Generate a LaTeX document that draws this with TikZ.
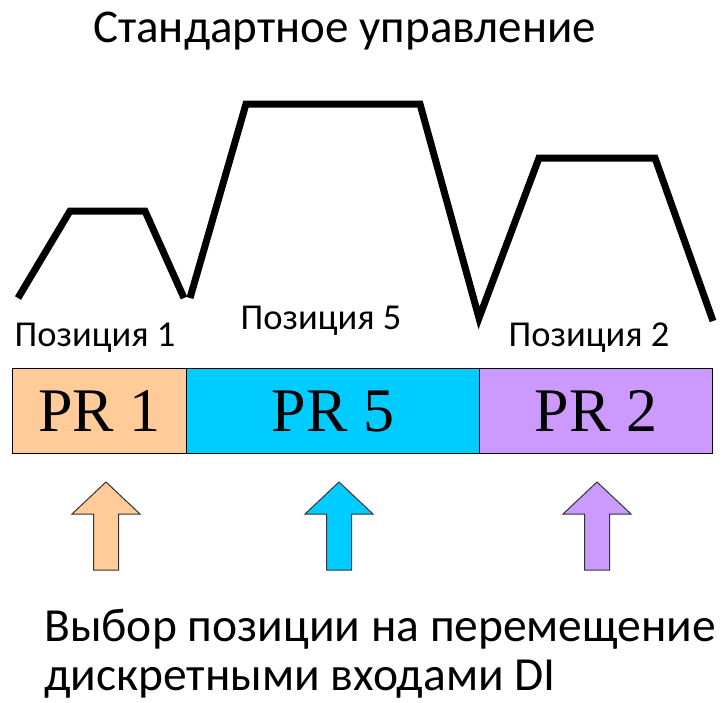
\documentclass[tikz,border=0pt]{standalone}
\usepackage{fontspec}
\setmainfont{Carlito}
\newfontfamily\prfont{Liberation Serif}
\tikzset{
  wave/.style={line width=7pt, line join=miter, line cap=butt},
  seg/.style={draw=black, line width=1.2pt, minimum height=85pt, inner sep=0pt, anchor=north west},
  prlabel/.style={font=\prfont\fontsize{62}{62}\selectfont},
  poslabel/.style={font=\fontsize{36.5}{38}\selectfont, inner sep=0pt, anchor=base},
  bigtext/.style={font=\fontsize{47.5}{50}\selectfont, inner sep=0pt, anchor=base west},
  uparrow/.style={draw=black!80, line width=1pt, line join=miter},
}
\definecolor{pr1}{HTML}{FFCC99}
\definecolor{pr5}{HTML}{00CCFF}
\definecolor{pr2}{HTML}{CC99FF}
\begin{document}
\begin{tikzpicture}[x=1pt,y=-1pt]
\useasboundingbox (0,0) rectangle (725,702);
% title
\node[font=\fontsize{47}{50}\selectfont, inner sep=0pt, anchor=base] (title) at (344.5,42) {Стандартное управление};
% wave
\draw[wave] (18,298) -- (70,211) -- (145,211) -- (184,298);
\draw[wave] (190,298) -- (246,104) -- (420,104) -- (479,318) -- (539,158) -- (655,158) -- (713,321);
% labels
\node[poslabel] (p1) at (95,346) {Позиция 1};
\node[poslabel] (p5) at (321,329) {Позиция 5};
\node[poslabel] (p2) at (589,346) {Позиция 2};
% boxes
\node[seg, fill=pr1, minimum width=174pt] (b1) at (12,368) {};
\node[seg, fill=pr5, minimum width=293pt] (b5) at (186,368) {};
\node[seg, fill=pr2, minimum width=233pt] (b2) at (479,368) {};
\node[prlabel] at (b1.center) {PR 1};
\node[prlabel] at (b5.center) {PR 5};
\node[prlabel] at (b2.center) {PR 2};
% arrows
\foreach \cx/\col/\nm in {106/pr1/a1, 339/pr5/a5, 597/pr2/a2}{
  \draw[uparrow, fill=\col] (\cx,482) -- (\cx+34,514) -- (\cx+12.5,514) -- (\cx+12.5,570)
     -- (\cx-12.5,570) -- (\cx-12.5,514) -- (\cx-34,514) -- cycle;
}
% bottom text
\node[bigtext] (t1) at (44,641) {Выбор позиции на перемещение};
\node[bigtext] (t2) at (44,690) {дискретными входами DI};
\end{tikzpicture}
\end{document}
